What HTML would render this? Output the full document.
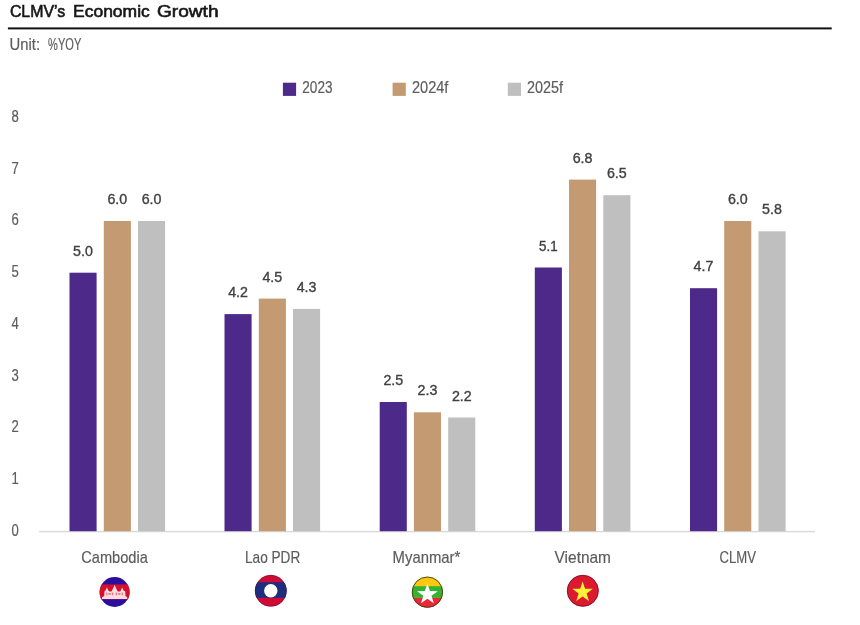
<!DOCTYPE html>
<html lang="en"><head><meta charset="utf-8"><title>CLMV's Economic Growth</title>
<style>
html,body{margin:0;padding:0;background:#fff;}
svg{display:block}
text{font-family:"Liberation Sans",sans-serif;}
.ax,.lg,.tk,.ct{stroke:#5c5c5c;stroke-width:.18px}
.ax{fill:#5c5c5c;font-size:16px}
.lg{fill:#5c5c5c;font-size:16px}
.tk{fill:#5c5c5c;font-size:15.6px}
.ct{fill:#5c5c5c;font-size:15.7px}
.dl{fill:#404040;font-size:14.2px;stroke:#404040;stroke-width:.35px}
.ttl{fill:#161616;font-size:16.6px;stroke:#161616;stroke-width:.6px}
</style></head><body>
<svg width="860" height="625" viewBox="0 0 860 625">
<rect width="860" height="625" fill="#fff"/>

<text class="ttl" x="9.9" y="16.9" textLength="55.3" lengthAdjust="spacingAndGlyphs">CLMV’s</text>
<text class="ttl" x="73" y="16.9" textLength="76.8" lengthAdjust="spacingAndGlyphs">Economic</text>
<text class="ttl" x="157" y="16.9" textLength="61.5" lengthAdjust="spacingAndGlyphs">Growth</text>
<rect x="7.9" y="27.4" width="823.8" height="2" fill="#111"/>
<text class="ax" x="9.6" y="49.6" textLength="30.5" lengthAdjust="spacingAndGlyphs">Unit:</text>
<text class="ax" x="48.1" y="49.6" textLength="33.2" lengthAdjust="spacingAndGlyphs">%YOY</text>
<rect x="282.9" y="82.7" width="13.2" height="13.2" fill="#4d2a8a"/>
<text class="lg" x="302.3" y="93" textLength="30.2" lengthAdjust="spacingAndGlyphs">2023</text>
<rect x="392.6" y="82.7" width="13.2" height="13.2" fill="#c49a72"/>
<text class="lg" x="412" y="93" textLength="36.4" lengthAdjust="spacingAndGlyphs">2024f</text>
<rect x="507.8" y="82.7" width="13.2" height="13.2" fill="#bfbfbf"/>
<text class="lg" x="527.1" y="93" textLength="35.9" lengthAdjust="spacingAndGlyphs">2025f</text>
<text class="tk" x="11.5" y="535.6" textLength="7.3" lengthAdjust="spacingAndGlyphs">0</text>
<text class="tk" x="11.5" y="483.9" textLength="7.3" lengthAdjust="spacingAndGlyphs">1</text>
<text class="tk" x="11.5" y="432.2" textLength="7.3" lengthAdjust="spacingAndGlyphs">2</text>
<text class="tk" x="11.5" y="380.5" textLength="7.3" lengthAdjust="spacingAndGlyphs">3</text>
<text class="tk" x="11.5" y="328.8" textLength="7.3" lengthAdjust="spacingAndGlyphs">4</text>
<text class="tk" x="11.5" y="277.1" textLength="7.3" lengthAdjust="spacingAndGlyphs">5</text>
<text class="tk" x="11.5" y="225.4" textLength="7.3" lengthAdjust="spacingAndGlyphs">6</text>
<text class="tk" x="11.5" y="173.7" textLength="7.3" lengthAdjust="spacingAndGlyphs">7</text>
<text class="tk" x="11.5" y="122.0" textLength="7.3" lengthAdjust="spacingAndGlyphs">8</text>
<rect x="39" y="530.9" width="776" height="1.4" fill="#d9d9d9"/>
<rect x="69.5" y="272.7" width="27.1" height="258.5" fill="#4d2a8a"/>
<text class="dl" x="73.1" y="255.7" textLength="19.8" lengthAdjust="spacingAndGlyphs">5.0</text>
<rect x="103.8" y="221.0" width="27.1" height="310.2" fill="#c49a72"/>
<text class="dl" x="107.4" y="204.0" textLength="19.8" lengthAdjust="spacingAndGlyphs">6.0</text>
<rect x="138.0" y="221.0" width="27.1" height="310.2" fill="#bfbfbf"/>
<text class="dl" x="141.7" y="204.0" textLength="19.8" lengthAdjust="spacingAndGlyphs">6.0</text>
<rect x="224.5" y="314.1" width="27.1" height="217.1" fill="#4d2a8a"/>
<text class="dl" x="228.2" y="297.1" textLength="19.8" lengthAdjust="spacingAndGlyphs">4.2</text>
<rect x="258.8" y="298.6" width="27.1" height="232.6" fill="#c49a72"/>
<text class="dl" x="262.4" y="281.6" textLength="19.8" lengthAdjust="spacingAndGlyphs">4.5</text>
<rect x="293.0" y="308.9" width="27.1" height="222.3" fill="#bfbfbf"/>
<text class="dl" x="296.7" y="291.9" textLength="19.8" lengthAdjust="spacingAndGlyphs">4.3</text>
<rect x="379.7" y="402.0" width="27.1" height="129.2" fill="#4d2a8a"/>
<text class="dl" x="383.4" y="385.0" textLength="19.8" lengthAdjust="spacingAndGlyphs">2.5</text>
<rect x="413.9" y="412.3" width="27.1" height="118.9" fill="#c49a72"/>
<text class="dl" x="417.6" y="395.3" textLength="19.8" lengthAdjust="spacingAndGlyphs">2.3</text>
<rect x="448.2" y="417.5" width="27.1" height="113.7" fill="#bfbfbf"/>
<text class="dl" x="451.9" y="400.5" textLength="19.8" lengthAdjust="spacingAndGlyphs">2.2</text>
<rect x="534.8" y="267.5" width="27.1" height="263.7" fill="#4d2a8a"/>
<text class="dl" x="539.0" y="250.5" textLength="18.6" lengthAdjust="spacingAndGlyphs">5.1</text>
<rect x="569.0" y="179.6" width="27.1" height="351.6" fill="#c49a72"/>
<text class="dl" x="572.7" y="162.6" textLength="19.8" lengthAdjust="spacingAndGlyphs">6.8</text>
<rect x="603.3" y="195.2" width="27.1" height="336.1" fill="#bfbfbf"/>
<text class="dl" x="606.9" y="178.2" textLength="19.8" lengthAdjust="spacingAndGlyphs">6.5</text>
<rect x="690.0" y="288.2" width="27.1" height="243.0" fill="#4d2a8a"/>
<text class="dl" x="693.6" y="271.2" textLength="19.8" lengthAdjust="spacingAndGlyphs">4.7</text>
<rect x="724.2" y="221.0" width="27.1" height="310.2" fill="#c49a72"/>
<text class="dl" x="727.9" y="204.0" textLength="19.8" lengthAdjust="spacingAndGlyphs">6.0</text>
<rect x="758.5" y="231.3" width="27.1" height="299.9" fill="#bfbfbf"/>
<text class="dl" x="762.1" y="214.3" textLength="19.8" lengthAdjust="spacingAndGlyphs">5.8</text>
<text class="ct" x="81.2" y="563.4" textLength="66.7" lengthAdjust="spacingAndGlyphs">Cambodia</text>
<text class="ct" x="245" y="563.4" textLength="55.3" lengthAdjust="spacingAndGlyphs">Lao PDR</text>
<text class="ct" x="392.6" y="563.4" textLength="67.7" lengthAdjust="spacingAndGlyphs">Myanmar*</text>
<text class="ct" x="554.6" y="563.4" textLength="56.4" lengthAdjust="spacingAndGlyphs">Vietnam</text>
<text class="ct" x="719.6" y="563.4" textLength="36.4" lengthAdjust="spacingAndGlyphs">CLMV</text>
<defs><filter id="bl" x="-10%" y="-10%" width="120%" height="120%"><feGaussianBlur stdDeviation="0.35"/></filter>
<clipPath id="c1"><circle cx="114.6" cy="592" r="15"/></clipPath>
<clipPath id="c2"><circle cx="270.8" cy="590.8" r="15.8"/></clipPath>
<clipPath id="c3"><circle cx="427.4" cy="592.2" r="15.4"/></clipPath>
</defs>
<g clip-path="url(#c1)"><rect x="99" y="576" width="32" height="32" fill="#2a0f9e"/><rect x="99" y="584.4" width="32" height="15" fill="#d60f2c"/>
<path fill="#fbdde1" filter="url(#bl)" d="M102 599 L102 597.3 L104.2 596 L104.5 591.2 L105.3 590.8 L106.9 587.5 L108.5 590.8 L109.5 591.4 L111.4 591.4 L112.3 590 L114.6 585.1 L116.9 590 L117.8 591.4 L120.1 591.4 L120.7 590.8 L122.1 587.5 L123.7 590.8 L125.2 591.2 L125.5 596 L127.2 597.3 L127.2 599 Z"/>
<path fill="#d9112f" opacity=".5" d="M106.2 592.6h1.3v2.6h-1.3z M108.6 593h2.2v1.8h-2.2z M111.9 592.6h1.4v2.6h-1.4z M115.7 592.6h1.4v2.6h-1.4z M118.3 593h2.2v1.8h-2.2z M121.6 592.6h1.3v2.6h-1.3z"/>
</g>
<g clip-path="url(#c2)"><rect x="254" y="574" width="34" height="34" fill="#cf0b35"/><rect x="254" y="582.2" width="34" height="15.6" fill="#1f2d7e"/><circle cx="270.8" cy="590.8" r="6.7" fill="#fff"/></g>
<circle cx="270.8" cy="590.8" r="15.6" fill="none" stroke="#3a1440" stroke-opacity=".55" stroke-width=".8"/>
<g clip-path="url(#c3)"><rect x="411" y="576" width="33" height="33" fill="#fdc80f"/><rect x="411" y="586.2" width="33" height="11.6" fill="#35b234"/><rect x="411" y="597.8" width="33" height="12" fill="#eb2839"/>
<polygon fill="#fff" points="427.40,583.60 429.93,591.02 437.77,591.13 431.49,595.83 433.81,603.32 427.40,598.80 420.99,603.32 423.31,595.83 417.03,591.13 424.87,591.02"/></g>
<circle cx="427.4" cy="592.2" r="15.2" fill="none" stroke="#3c3c14" stroke-opacity=".9" stroke-width="1"/>
<circle cx="582.8" cy="590.8" r="15.8" fill="#dc1a2f"/>
<circle cx="582.8" cy="590.8" r="15.5" fill="none" stroke="#7a1428" stroke-opacity=".85" stroke-width="1"/>
<polygon fill="#fff137" points="582.60,581.40 585.07,588.80 592.87,588.86 586.59,593.50 588.95,600.94 582.60,596.40 576.25,600.94 578.61,593.50 572.33,588.86 580.13,588.80"/>
</svg></body></html>
